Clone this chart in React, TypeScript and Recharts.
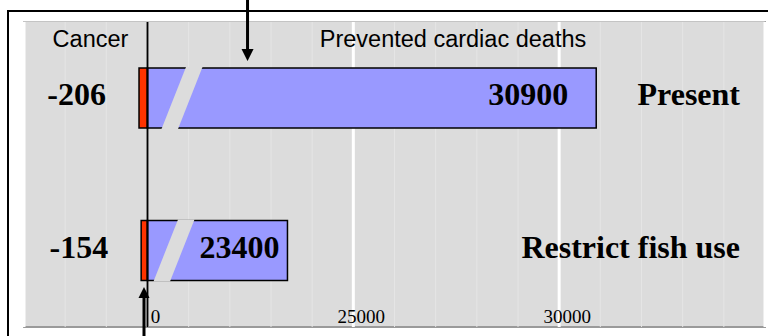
import { BarChart, Bar, XAxis, YAxis, CartesianGrid, ReferenceLine, LabelList } from 'recharts';

const scenarios = ['Present', 'Restrict fish use'];
const cancerDeaths = [-206, -154];
const cardiacDeathsPrevented = [30900, 23400];
const tickValues = [0, 25000, 30000];
// faint minor grid, one line per 1000 on the drawn axis
const minorTicks = [
  -3000, -2000, -1000, 0, 1000, 2000, 3000, 4000, 5000, 6000,
  7000, 8000, 9000, 10000, 11000, 12000, 13000, 14000, 15000,
];

// the cardiac scale is cut at 20000 and joined onto zero
const AXIS_BREAK = 20000;
const toAxis = (v: number) => (v >= AXIS_BREAK ? v - AXIS_BREAK : v);
const fromAxis = (v: number) => (v > 0 ? v + AXIS_BREAK : v);
const DOMAIN: [number, number] = [-3000, 15000];

const data = scenarios.map((scenario, i) => ({
  scenario,
  cancer: cancerDeaths[i],
  cardiac: cardiacDeathsPrevented[i],
  cardiacAxis: toAxis(cardiacDeathsPrevented[i]),
}));

const SANS = '"Liberation Sans", Arial, sans-serif';
const SERIF = '"Liberation Serif", "Times New Roman", serif';
const PLOT_BG = '#dcdcdc';

// where the slanted break gap starts inside each cardiac bar
const breakStart = [14, 6];
const valueInset = [28, 8];

function minorGridPoints({ xAxis, offset }: any) {
  if (xAxis && typeof xAxis.scale === 'function') {
    return minorTicks.map((v) => xAxis.scale(v));
  }
  return minorTicks.map(
    (v) => offset.left + ((v - DOMAIN[0]) / (DOMAIN[1] - DOMAIN[0])) * offset.width,
  );
}

function BrokenBar(props: any) {
  const { x, y, width, height, index } = props;
  const b = x + (breakStart[index] ?? 10);
  const top = y - 1;
  const bottom = y + height + 1;
  return (
    <g>
      <rect x={x} y={y} width={width} height={height} fill="#9999ff" stroke="#000" strokeWidth={1.5} />
      <polygon
        points={`${b},${bottom} ${b + 16.5},${bottom} ${b + 41},${top} ${b + 24.5},${top}`}
        fill={PLOT_BG}
      />
    </g>
  );
}

function CardiacValue(props: any) {
  const { x, y, width, height, value, index } = props;
  return (
    <text
      x={x + width - (valueInset[index] ?? 10)}
      y={y + height / 2 + 7}
      textAnchor="end"
      fontFamily={SERIF}
      fontWeight="bold"
      fontSize={32}
      fill="#000"
    >
      {value}
    </text>
  );
}

function CancerValue(props: any) {
  const { x, y, width, height, value } = props;
  const left = Math.min(x, x + width);
  return (
    <text
      x={left - 33}
      y={y + height / 2 + 7}
      textAnchor="end"
      fontFamily={SERIF}
      fontWeight="bold"
      fontSize={32}
      fill="#000"
    >
      {value}
    </text>
  );
}

// the right axis sits on the plot edge; names are pulled back inside
function ScenarioTick({ x, y, payload }: any) {
  return (
    <text x={x - 25} y={y + 7} textAnchor="end" fontFamily={SERIF} fontWeight="bold" fontSize={32} fill="#000">
      {payload.value}
    </text>
  );
}

// value labels sit inside the plot, just above the bottom edge
function ValueTick({ x, y, payload }: any) {
  return (
    <text x={x + 8} y={y - 4} textAnchor="middle" fontFamily={SERIF} fontSize={19} fill="#000">
      {fromAxis(payload.value)}
    </text>
  );
}

function DownArrow(props: any) {
  const x = props.x1;
  const top = Math.min(props.y1, props.y2);
  return (
    <g>
      <line x1={x} y1={top - 22} x2={x} y2={top + 29} stroke="#000" strokeWidth={3} />
      <polygon points={`${x - 6},${top + 27} ${x + 6},${top + 27} ${x},${top + 39}`} fill="#000" />
    </g>
  );
}

function UpArrow(props: any) {
  const x = props.x1;
  const bottom = Math.max(props.y1, props.y2);
  return (
    <g>
      <line x1={x} y1={bottom - 30} x2={x} y2={bottom + 10} stroke="#000" strokeWidth={3} />
      <polygon points={`${x - 5.5},${bottom - 29} ${x + 5.5},${bottom - 29} ${x},${bottom - 40}`} fill="#000" />
    </g>
  );
}

export default function App() {
  return (
    <div style={{ position: 'absolute', left: 0, top: 0, width: 768, height: 336, overflow: 'hidden', background: '#fff' }}>
      <div
        style={{
          position: 'absolute',
          left: 7,
          top: 10,
          width: 900,
          height: 500,
          border: '2px solid #000',
        }}
      />
      <div
        style={{
          position: 'absolute',
          left: 23,
          top: 21,
          width: 743,
          height: 307,
          boxSizing: 'border-box',
          background: PLOT_BG,
          borderTop: '1px solid #c4c4c4',
          borderLeft: '1px solid #c4c4c4',
          borderRight: '2px solid #9a9a9a',
          borderBottom: '2px solid #9a9a9a',
        }}
      />
      <div style={{ position: 'absolute', left: 0, top: 0 }}>
        <BarChart
          width={768}
          height={336}
          data={data}
          layout="vertical"
          stackOffset="sign"
          margin={{ top: 22, right: 2, bottom: 8, left: 24 }}
        >
          <XAxis
            xAxisId="main"
            type="number"
            domain={DOMAIN}
            ticks={tickValues.map(toAxis)}
            height={1}
            tickSize={0}
            tickMargin={0}
            tick={<ValueTick />}
            axisLine={false}
            tickLine={false}
            interval={0}
          />
          <YAxis
            type="category"
            dataKey="scenario"
            orientation="right"
            width={1}
            tickSize={0}
            tickMargin={0}
            axisLine={false}
            tickLine={false}
            tick={<ScenarioTick />}
          />
          <CartesianGrid
            xAxisId="main"
            horizontal={false}
            verticalCoordinatesGenerator={minorGridPoints}
            stroke="#e5e5e5"
            strokeWidth={1}
          />
          <CartesianGrid xAxisId="main" horizontal={false} stroke="#ffffff" strokeWidth={3} />
          <Bar
            xAxisId="main"
            dataKey="cancer"
            stackId="deaths"
            barSize={60}
            fill="#ff3300"
            stroke="#000"
            strokeWidth={1.5}
            isAnimationActive={false}
          >
            <LabelList dataKey="cancer" content={<CancerValue />} />
          </Bar>
          <Bar
            xAxisId="main"
            dataKey="cardiacAxis"
            stackId="deaths"
            barSize={60}
            shape={<BrokenBar />}
            isAnimationActive={false}
          >
            <LabelList dataKey="cardiac" content={<CardiacValue />} />
          </Bar>
          <ReferenceLine xAxisId="main" x={0} stroke="#000" strokeWidth={2} />
          <ReferenceLine xAxisId="main" x={2430} shape={<DownArrow />} />
          <ReferenceLine xAxisId="main" x={-85} shape={<UpArrow />} />
        </BarChart>
      </div>
      <svg width={768} height={336} style={{ position: 'absolute', left: 0, top: 0, pointerEvents: 'none' }}>
        <text x={90.5} y={47} textAnchor="middle" fontFamily={SANS} fontSize={23.5} fill="#000">
          Cancer
        </text>
        <text x={453} y={47} textAnchor="middle" fontFamily={SANS} fontSize={23.5} fill="#000">
          Prevented cardiac deaths
        </text>
      </svg>
    </div>
  );
}
